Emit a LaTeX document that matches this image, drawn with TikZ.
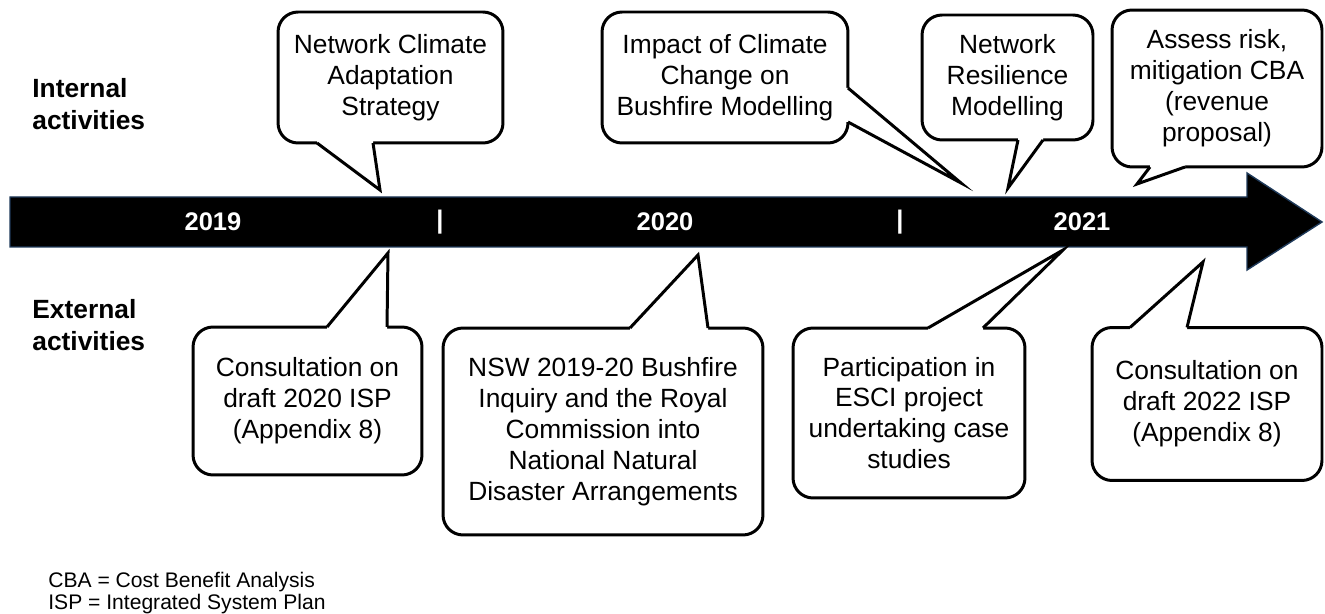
\documentclass[tikz,border=0pt]{standalone}
\usepackage{fontspec}
\setmainfont{Liberation Sans}
\definecolor{arrowedge}{HTML}{1F3A5A}

\begin{document}
\begin{tikzpicture}[x=0.02cm, y=-0.02cm,
    bubble/.style={draw, line width=1.7pt, rounded corners=0.4cm, fill=white, align=center, inner sep=2pt, font=\fontsize{15}{17.6}\selectfont},
    tail/.style={line width=1.7pt, line join=miter},
    year/.style={text=white, inner sep=0pt, font=\bfseries\fontsize{14.5}{17}\selectfont},
    side/.style={anchor=west, align=left, inner sep=0pt, font=\bfseries\fontsize{15}{18}\selectfont}]

    \useasboundingbox (0,0) rectangle (1325,614);

    % Timeline arrow
    \filldraw[fill=black, draw=arrowedge, line width=0.8pt] (10,197) -- (1247,197) -- (1247,173) -- (1322,222) -- (1247,270) -- (1247,247) -- (10,247) -- cycle;

    % Years and separators on the arrow
    \node[year] (y2019) at (213,222) {2019};
    \node[year] (sep1) at (440,222) {|};
    \node[year] (y2020) at (665,222) {2020};
    \node[year] (sep2) at (900,222) {|};
    \node[year] (y2021) at (1082,222) {2021};

    % Row labels
    \node[side] (internal) at (32,104) {Internal\\activities};
    \node[side] (external) at (32,325) {External\\activities};

    % Internal activities (above the arrow)
    \node[bubble, minimum width=4.5cm, minimum height=2.62cm] (ncas) at (390.5,77.5) {Network Climate\\Adaptation\\Strategy};
    \coordinate (ncas tip) at (380,190);
    \fill[white] (317,140) -- (317,143) -- (ncas tip) -- (373,143) -- (373,140) -- cycle;
    \draw[tail] (317,143) -- (ncas tip) -- (373,143);

    \node[bubble, minimum width=4.92cm, minimum height=2.62cm] (impact) at (725,77.5) {Impact of Climate\\Change on\\Bushfire Modelling};
    \coordinate (impact tip) at (961,183);
    \fill[white] (845,88) -- (848,88) -- (impact tip) -- (848,122) -- (845,122) -- cycle;
    \draw[tail] (848,88) -- (impact tip) -- (848,122);

    \node[bubble, minimum width=3.42cm, minimum height=2.5cm] (resil) at (1007.5,77.5) {Network\\Resilience\\Modelling};
    \coordinate (resil tip) at (1008,188);
    \fill[white] (1018,137) -- (1018,140) -- (resil tip) -- (1043,140) -- (1043,137) -- cycle;
    \draw[tail] (1018,140) -- (resil tip) -- (1043,140);

    \node[bubble, minimum width=4.2cm, minimum height=3.14cm] (assess) at (1217,88.5) {Assess risk,\\mitigation CBA\\(revenue\\proposal)};
    \coordinate (assess tip) at (1137,184);
    \fill[white] (1150,164) -- (1150,167) -- (assess tip) -- (1185,167) -- (1185,164) -- cycle;
    \draw[tail] (1150,167) -- (assess tip) -- (1185,167);

    % External activities (below the arrow)
    \node[bubble, minimum width=4.58cm, minimum height=2.96cm] (isp20) at (307.5,401) {Consultation on\\draft 2020 ISP\\(Appendix 8)};
    \coordinate (isp20 tip) at (388,253);
    \fill[white] (327,330) -- (327,327) -- (isp20 tip) -- (387,327) -- (387,330) -- cycle;
    \draw[tail] (327,327) -- (isp20 tip) -- (387,327);

    \node[bubble, minimum width=6.4cm, minimum height=4.14cm] (nsw) at (603,431.5) {NSW 2019-20 Bushfire\\Inquiry and the Royal\\Commission into\\National Natural\\Disaster Arrangements};
    \coordinate (nsw tip) at (698,255);
    \fill[white] (630,331) -- (630,328) -- (nsw tip) -- (708,328) -- (708,331) -- cycle;
    \draw[tail] (630,328) -- (nsw tip) -- (708,328);

    \node[bubble, minimum width=4.64cm, minimum height=3.4cm] (esci) at (909,413) {Participation in\\ESCI project\\undertaking case\\studies};
    \coordinate (esci tip) at (1063,250);
    \fill[white] (928,331) -- (928,328) -- (esci tip) -- (983,328) -- (983,331) -- cycle;
    \draw[tail] (928,328) -- (esci tip) -- (983,328);

    \node[bubble, minimum width=4.6cm, minimum height=3.06cm] (isp22) at (1207,404) {Consultation on\\draft 2022 ISP\\(Appendix 8)};
    \coordinate (isp22 tip) at (1203,262);
    \fill[white] (1130,330.5) -- (1130,327.5) -- (isp22 tip) -- (1187,327.5) -- (1187,330.5) -- cycle;
    \draw[tail] (1130,327.5) -- (isp22 tip) -- (1187,327.5);

    % Abbreviations
    \node[anchor=north west, align=left, inner sep=0pt, font=\fontsize{12}{11}\selectfont] (abbr) at (48,572) {CBA = Cost Benefit Analysis\\ISP = Integrated System Plan};
\end{tikzpicture}
\end{document}
